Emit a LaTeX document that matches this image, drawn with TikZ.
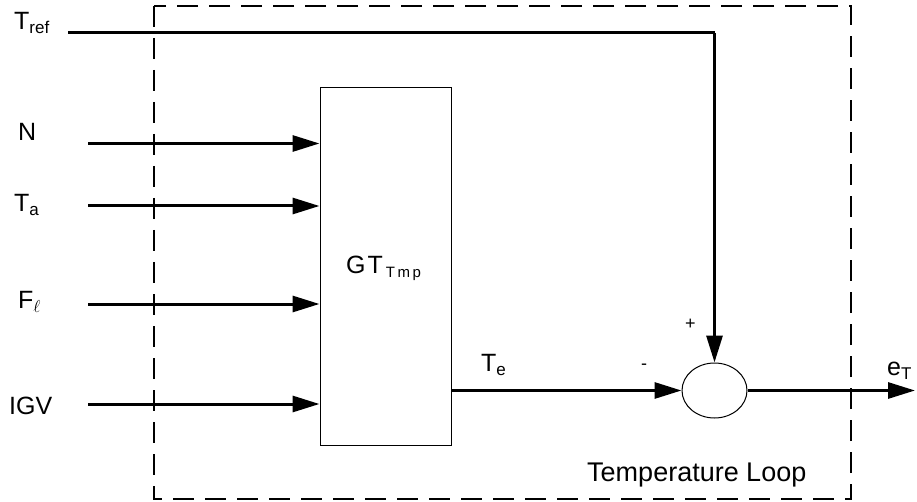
\documentclass[tikz,border=0pt]{standalone}
\usepackage{fontspec}
\setmainfont{Liberation Sans}
\usetikzlibrary{arrows.meta,shapes.geometric}
\newcommand{\mysub}[1]{\raisebox{-4pt}{\fontsize{17}{17}\selectfont #1}}
\tikzset{
  lbl/.style={anchor=base west,inner sep=0pt,font=\fontsize{25}{29}\selectfont},
  sig/.style={line width=3pt,-{Triangle[length=27pt,width=16pt]}},
  wire/.style={line width=3pt},
  blk/.style={draw,line width=1pt,inner sep=0pt},
  frame/.style={draw,line width=1.5pt,dash pattern=on 21pt off 11pt}
}
\begin{document}
\begin{tikzpicture}[x=1pt,y=-1pt]
\useasboundingbox (0,0) rectangle (917,502);
% dashed frame
\draw[frame] (154,6) rectangle (851,499);
% blocks
\node[blk,minimum width=131pt,minimum height=357pt] (gt) at (385.5,266.5) {};
\node[blk,ellipse,minimum width=65pt,minimum height=55pt] (sum) at (714.5,390.5) {};
% input coordinates
\coordinate (tref) at (68,33);
\coordinate (inN) at (88,143.5);
\coordinate (inTa) at (88,206);
\coordinate (inF) at (88,304);
\coordinate (inIGV) at (88,404);
\coordinate (out) at (915,390.5);
% connectors
\draw[wire] (tref) -- (sum.north |- tref);
\draw[sig] (sum.north |- tref) -- (sum.north);
\draw[sig] (inN) -- (gt.west |- inN);
\draw[sig] (inTa) -- (gt.west |- inTa);
\draw[sig] (inF) -- (gt.west |- inF);
\draw[sig] (inIGV) -- (gt.west |- inIGV);
\draw[sig] (gt.east |- sum) -- (sum.west);
\draw[sig] (sum.east) -- (out);
% labels
\node[lbl] (ltref) at (14,30) {T\mysub{ref}};
\node[lbl] (lN) at (18,141) {N};
\node[lbl] (lTa) at (14,212) {T\mysub{a}};
\node[lbl] (lF) at (18,308) {F\raisebox{-4pt}{\fontsize{18}{18}\selectfont$\ell$}};
\node[lbl] (lIGV) at (9,414) {IGV};
\node[lbl] (lgt) at (346,274) {G\hspace{2pt}T\hspace{3pt}\raisebox{-3pt}{\fontsize{15}{15}\selectfont T\hspace{2.5pt}m\hspace{2.5pt}p}};
\node[lbl] (lTe) at (481,371) {T\mysub{e}};
\node[lbl,font=\fontsize{18}{18}\selectfont] (lminus) at (641,369) {-};
\node[lbl,font=\fontsize{18}{18}\selectfont] (lplus) at (685,329) {+};
\node[lbl] (leT) at (887,375) {e\mysub{T}};
\node[lbl,font=\fontsize{27}{30}\selectfont] (lloop) at (587,481) {Temperature Loop};
\end{tikzpicture}
\end{document}
